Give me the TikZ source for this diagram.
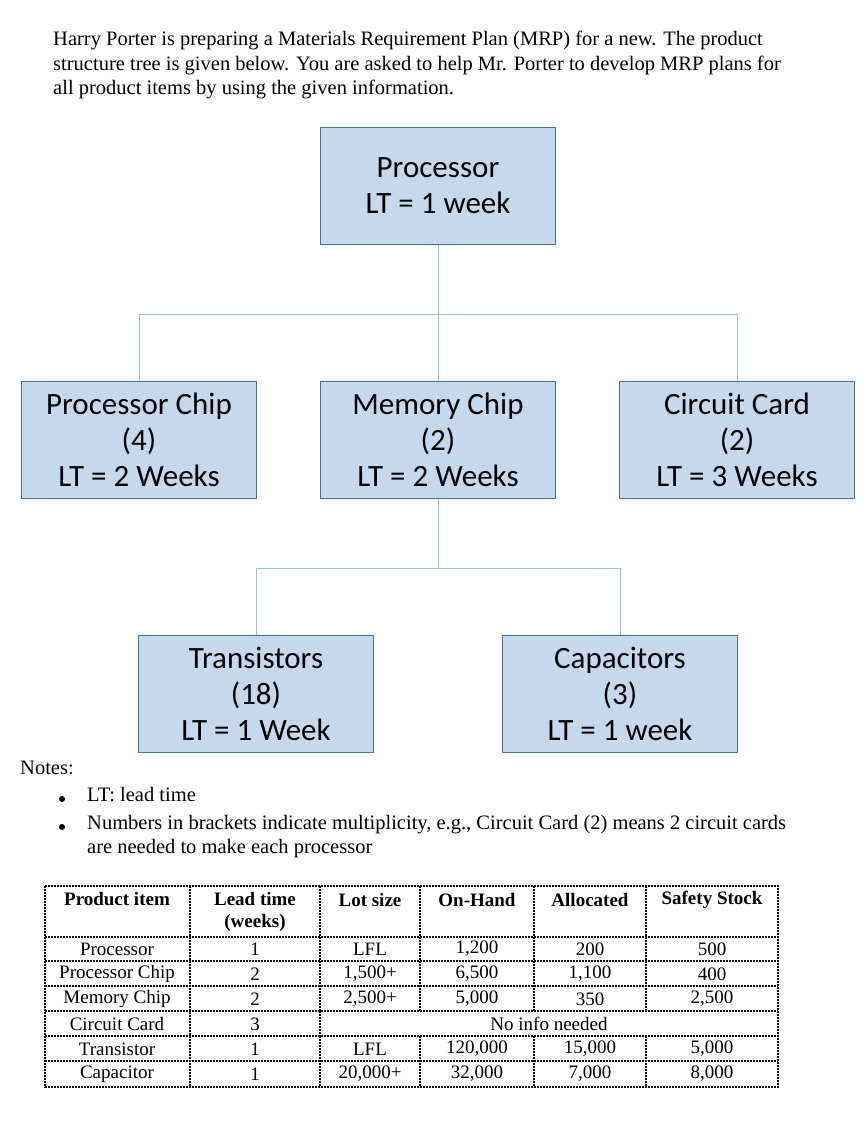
\documentclass[tikz,border=0pt]{standalone}
\usepackage{fontspec}
\setmainfont{Liberation Serif}
\newfontfamily\boxfont{Carlito}
\definecolor{bfill}{HTML}{C5D8EC}
\definecolor{bdraw}{HTML}{4672A0}
\definecolor{lcon}{HTML}{9DC0E4}
\begin{document}
\begin{tikzpicture}[x=1pt,y=-1pt,
  blk/.style={draw=bdraw, line width=1pt, fill=bfill, minimum width=235pt, minimum height=117pt, anchor=north west, align=center, font=\boxfont\fontsize{31}{36}\selectfont, inner sep=0pt},
  con/.style={draw=lcon, line width=1pt},
  body/.style={font=\fontsize{20.5}{24.5}\selectfont, anchor=north west, align=left, inner sep=0pt},
  cell/.style={font=\fontsize{19}{21}\selectfont, inner sep=0pt},
  hd/.style={font=\bfseries\fontsize{19}{22}\selectfont, inner sep=0pt, align=center},
  dl/.style={line width=1.2pt, dash pattern=on 2pt off 1pt}]
\useasboundingbox (0,0) rectangle (866,1144);
\node[body] (intro) at (53,31) {Harry Porter is preparing a Materials Requirement Plan (MRP) for a new. The product\\structure tree is given below. You are asked to help Mr. Porter to develop MRP plans for\\all product items by using the given information.};
\node[blk] (p) at (320,127) {Processor\\LT = 1 week};
\node[blk] (pc) at (21,381) {Processor Chip\\(4)\\LT = 2 Weeks};
\node[blk] (mc) at (320,381) {Memory Chip\\(2)\\LT = 2 Weeks};
\node[blk] (cc) at (619,381) {Circuit Card\\(2)\\LT = 3 Weeks};
\node[blk] (tr) at (138,635) {Transistors\\(18)\\LT = 1 Week};
\node[blk] (ca) at (502,635) {Capacitors\\(3)\\LT = 1 week};
\draw[con] (p.south) -- ++(0,69) -| (pc.north);
\draw[con] (p.south) -- ++(0,69) -| (cc.north);
\draw[con] (p.south) -- (mc.north);
\draw[con] (mc.south) -- ++(0,69) -| (tr.north);
\draw[con] (mc.south) -- ++(0,69) -| (ca.north);
\node[body] (notes) at (20,761) {Notes:};
\fill (62,799) circle (3pt);
\fill (62,827) circle (3pt);
\node[body] (n1) at (87,787) {LT: lead time};
\node[body] (n2) at (87,815) {Numbers in brackets indicate multiplicity, e.g., Circuit Card (2) means 2 circuit cards\\are needed to make each processor};
% table
\draw[dl] (45,886) rectangle (778,1087);
\foreach \y in {937,961,986,1011,1036,1061} \draw[dl] (45,\y) -- (778,\y);
\draw[dl] (190,886) -- (190,1087);
\foreach \x in {320,420,534,646} {\draw[dl] (\x,886) -- (\x,1011); \draw[dl] (\x,1036) -- (\x,1087);}
\draw[dl] (320,1011) -- (320,1036);
\node[hd] (h1) at (117,899) {Product item};
\node[hd] (h2) at (255,912) {Lead time\\(weeks)};
\node[hd] (h3) at (370,900) {Lot size};
\node[hd] (h4) at (477,900) {On-Hand};
\node[hd] (h5) at (590,900) {Allocated};
\node[hd] (h6) at (712,900) {Safety Stock};
\foreach \r/\a/\b/\c/\d/\e/\f in {949/Processor/1/LFL/{1,200}/200/500, 974/Processor Chip/2/{1,500+}/{6,500}/{1,100}/400, 999/Memory Chip/2/{2,500+}/{5,000}/350/{2,500}, 1049/Transistor/1/LFL/{120,000}/{15,000}/{5,000}, 1074/Capacitor/1/{20,000+}/{32,000}/{7,000}/{8,000}} {
  \node[cell] at (117,\r) {\a};
  \node[cell] at (255,\r) {\b};
  \node[cell] at (370,\r) {\c};
  \node[cell] at (477,\r) {\d};
  \node[cell] at (590,\r) {\e};
  \node[cell] at (712,\r) {\f};
}
\node[cell] (cc1) at (117,1024) {Circuit Card};
\node[cell] (cc2) at (255,1024) {3};
\node[cell] (cc3) at (549,1024) {No info needed};
\end{tikzpicture}
\end{document}
